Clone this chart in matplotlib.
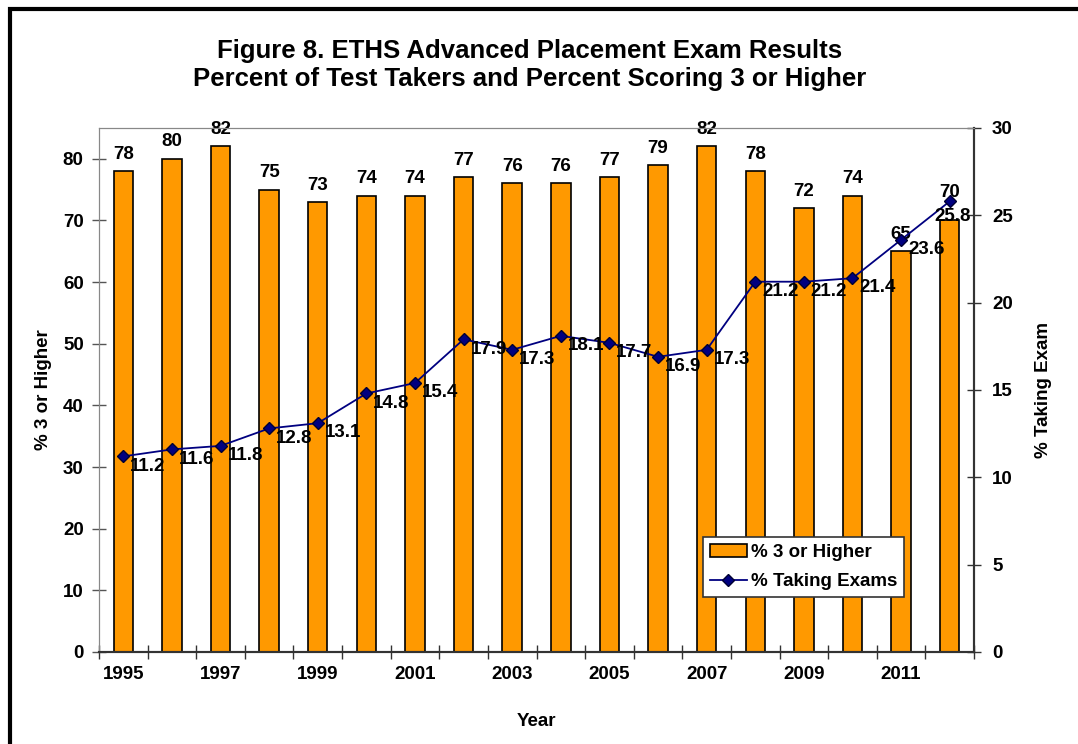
import numpy as np
import matplotlib
matplotlib.use('Agg')
import matplotlib.pyplot as plt
from matplotlib.patches import Rectangle
from matplotlib.ticker import FixedLocator, NullFormatter

plt.rcParams['font.family'] = ['Liberation Sans', 'DejaVu Sans']
plt.rcParams['font.weight'] = 'bold'

years = list(range(1995, 2013))
pct_3_or_higher = [78, 80, 82, 75, 73, 74, 74, 77, 76, 76, 77, 79, 82, 78, 72, 74, 65, 70]
pct_taking = [11.2, 11.6, 11.8, 12.8, 13.1, 14.8, 15.4, 17.9, 17.3, 18.1, 17.7, 16.9, 17.3,
              21.2, 21.2, 21.4, 23.6, 25.8]
tick_years = [y for y in years if y % 2 == 1]

W, H = 1078, 744
fs = 13.5
fig = plt.figure(figsize=(W / 100, H / 100), dpi=100)
ax = fig.add_axes([99 / W, 1 - 652 / H, (974 - 99) / W, (652 - 128) / H])
ax2 = ax.twinx()

x = np.arange(len(years))
bars = ax.bar(x, pct_3_or_higher, width=0.4, color='#FF9900', edgecolor='black',
              linewidth=1.2, label='% 3 or Higher', zorder=2)
for i, (xi, v) in enumerate(zip(x, pct_3_or_higher)):
    # last label sits above the line marker, like Excel nudges it
    dy = 14 if i == len(x) - 1 else 6
    ax.annotate(str(v), (xi, v), xytext=(0, dy), textcoords='offset points',
                ha='center', va='bottom', fontsize=fs, fontweight='bold')

line, = ax2.plot(x, pct_taking, color='#000080', marker='D', markersize=6,
                 markerfacecolor='#000080', markeredgecolor='#000033', linewidth=1.3,
                 label='% Taking Exams', zorder=3)
for i, (xi, v) in enumerate(zip(x, pct_taking)):
    if i == len(x) - 1:
        ax2.annotate(f'{v:.1f}', (xi, v), xytext=(2, -11), textcoords='offset points',
                     ha='center', va='center', fontsize=fs, fontweight='bold')
    else:
        ax2.annotate(f'{v:.1f}', (xi, v), xytext=(5, -7), textcoords='offset points',
                     ha='left', va='center', fontsize=fs, fontweight='bold')

ax.set_xlim(-0.5, len(years) - 0.5)
ax.set_ylim(0, 85)
ax2.set_ylim(0, 30)
ax.set_yticks(range(0, 81, 10))
ax2.set_yticks(range(0, 31, 5))

ax.set_xticks([years.index(y) for y in tick_years])
ax.set_xticklabels([str(y) for y in tick_years])
ax.xaxis.set_minor_locator(FixedLocator(np.arange(-0.5, len(years), 1.0)))
ax.xaxis.set_minor_formatter(NullFormatter())
ax.tick_params(axis='x', which='major', length=0, pad=10, labelsize=fs)
ax.tick_params(axis='x', which='minor', direction='inout', length=10, width=1, color='#333333')
ax.tick_params(axis='y', direction='inout', length=10, width=1, color='#555555', labelsize=fs, pad=6)
ax2.tick_params(axis='y', direction='inout', length=10, width=1, color='#333333', labelsize=fs, pad=8)

for a in (ax, ax2):
    a.spines['top'].set_color('#888888')
    a.spines['left'].set_color('#888888')
    a.spines['bottom'].set_color('#333333')
    a.spines['right'].set_color('#333333')
    a.spines['bottom'].set_linewidth(1.5)
    a.spines['right'].set_linewidth(1.5)
    for lbl in a.get_yticklabels() + a.get_xticklabels():
        lbl.set_fontweight('bold')

ax.set_ylabel('% 3 or Higher', fontsize=fs, fontweight='bold', labelpad=8)
ax2.set_ylabel('% Taking Exam', fontsize=fs, fontweight='bold', labelpad=16)
ax.set_xlabel('Year', fontsize=fs, fontweight='bold', labelpad=22)

fig.text(530 / W, 1 - 65 / H, 'Figure 8. ETHS Advanced Placement Exam Results\n'
         'Percent of Test Takers and Percent Scoring 3 or Higher',
         ha='center', va='center', fontsize=18.5, fontweight='bold', linespacing=1.2)

leg = ax.legend([bars, line], ['% 3 or Higher', '% Taking Exams'],
                loc='lower left', bbox_to_anchor=((703 - 99) / 875, (652 - 597) / 524),
                fontsize=fs, frameon=True, fancybox=False, framealpha=1,
                edgecolor='#333333', borderpad=0.35, handlelength=2.0,
                handletextpad=0.2, labelspacing=0.65, borderaxespad=0)
leg.get_frame().set_linewidth(1.2)
for t in leg.get_texts():
    t.set_fontweight('bold')

fig.patches.append(Rectangle((10 / W, -0.05), 1.1, 1 - 0.0121 + 0.05,
                             transform=fig.transFigure, fill=False,
                             edgecolor='black', linewidth=3))

fig.savefig('out.png', dpi=100)
